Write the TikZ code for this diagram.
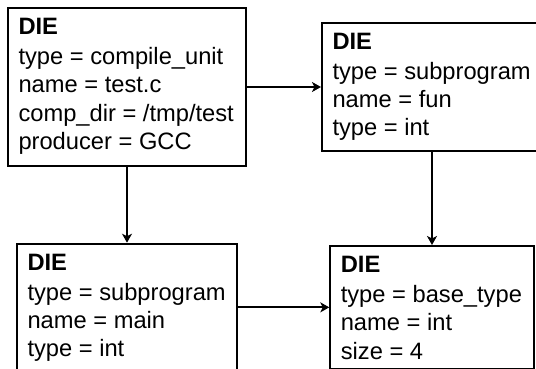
\documentclass[tikz,border=0pt]{standalone}
\usepackage{fontspec}
\setmainfont{Liberation Sans}
\usetikzlibrary{arrows.meta}
\newcommand{\diebox}[3]{\parbox[c][#2pt][t]{#1pt}{\raggedright\fontsize{23.7pt}{28.3pt}\selectfont\rule{0pt}{26.5pt}\textbf{DIE}\\[1.7pt]#3}}
\begin{document}
\begin{tikzpicture}[x=1pt,y=-1pt,
  box/.style={draw,line width=2pt,rectangle,anchor=north west,inner ysep=0pt,inner xsep=10.5pt},
  conn/.style={line width=2pt,-{Stealth[length=9pt,width=10pt,inset=2.5pt]}}]
\useasboundingbox (0,0) rectangle (536,369);
\clip (0,0) rectangle (536,369);
\node[box] (tl) at (7,7) {\diebox{217}{158}{type = compile\_unit\\name = test.c\\comp\_dir = /tmp/test\\producer = GCC}};
\node[box] (tr) at (321,21.7) {\diebox{199}{128.3}{type = subprogram\\name = fun\\type = int}};
\node[box] (bl) at (16,242.7) {\diebox{198.7}{140}{type = subprogram\\name = main\\type = int}};
\node[box] (br) at (329.3,245) {\diebox{183}{122.7}{type = base\_type\\name = int\\size = 4}};
\draw[conn] (tl.east) -- (tl.east -| tr.west);
\draw[conn] (tl.south) -- (tl.south |- bl.north);
\draw[conn] (tr.south) -- (tr.south |- br.north);
\draw[conn] (bl.east |- br.west) -- (br.west);
\end{tikzpicture}
\end{document}
